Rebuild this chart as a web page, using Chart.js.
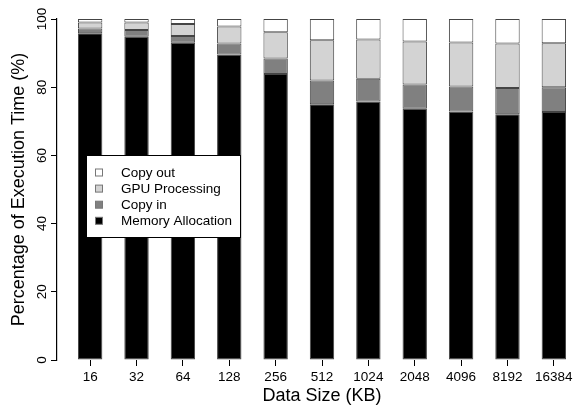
<!DOCTYPE html>
<html>
<head>
<meta charset="utf-8">
<title>Execution time breakdown</title>
<script src="https://cdn.jsdelivr.net/npm/chart.js@4.4.1/dist/chart.umd.min.js"></script>
<style>
  html, body { margin: 0; padding: 0; background: #fff; }
  #breakdownChart { display: block; }
</style>
</head>
<body>
<canvas id="breakdownChart" width="587" height="405"></canvas>
<script>
// data sizes in KB (x categories)
const dataSizes = ['16', '32', '64', '128', '256', '512', '1024', '2048', '4096', '8192', '16384'];
const yTicks = [0, 20, 40, 60, 80, 100];

// percentage of execution time
const memoryAllocation = [95.8, 94.8, 93.0, 89.6, 83.9, 75.0, 75.8, 73.7, 72.9, 72.1, 72.7];
const copyIn = [1.4, 2.0, 2.0, 3.2, 4.5, 7.0, 6.7, 7.1, 7.3, 7.7, 7.3];
const gpuProcessing = [1.8, 2.2, 3.5, 5.0, 7.7, 11.8, 11.5, 12.6, 12.9, 13.0, 12.9];
const copyOut = [1.0, 1.0, 1.5, 2.2, 3.9, 6.2, 6.0, 6.6, 6.9, 7.2, 7.1];

const FONT = "'Liberation Sans', Arial, Helvetica, sans-serif";
Chart.defaults.font.family = FONT;
Chart.defaults.color = '#000';

const toPoints = values => values.map((v, i) => ({ x: i, y: v }));

// legend box drawn inside the plot, like the original
const legendBox = {
    id: 'legendBox',
    afterDatasetsDraw(chart) {
        const ctx = chart.ctx;
        const items = chart.data.datasets.slice().reverse();
        ctx.save();
        ctx.fillStyle = '#fff';
        ctx.strokeStyle = '#000';
        ctx.lineWidth = 1;
        ctx.fillRect(86.5, 155.5, 154, 82);
        ctx.strokeRect(86.5, 155.5, 154, 82);
        ctx.font = '13.5px ' + FONT;
        ctx.textBaseline = 'middle';
        ctx.textAlign = 'left';
        items.forEach((ds, i) => {
            const y = 172.5 + i * 16.1;
            ctx.fillStyle = ds.backgroundColor;
            ctx.fillRect(95.5, y - 3.5, 7, 7);
            ctx.strokeStyle = '#777';
            ctx.strokeRect(95.5, y - 3.5, 7, 7);
            ctx.fillStyle = '#000';
            ctx.fillText(ds.label, 121, y + 0.5);
        });
        ctx.restore();
    }
};

// y tick labels are written vertically
const verticalYLabels = {
    id: 'verticalYLabels',
    afterDraw(chart) {
        const ctx = chart.ctx;
        const scale = chart.scales.y;
        ctx.save();
        ctx.font = '13.5px ' + FONT;
        ctx.fillStyle = '#000';
        ctx.textAlign = 'center';
        ctx.textBaseline = 'alphabetic';
        scale.ticks.forEach(t => {
            ctx.save();
            ctx.translate(46, scale.getPixelForValue(t.value));
            ctx.rotate(-Math.PI / 2);
            ctx.fillText(String(t.value), 0, 0);
            ctx.restore();
        });
        ctx.restore();
    }
};

const barStyle = {
    borderColor: '#444',
    borderWidth: 1,
    borderSkipped: false,
    categoryPercentage: 1,
    barPercentage: 0.526
};

new Chart(document.getElementById('breakdownChart'), {
    type: 'bar',
    data: {
        datasets: [
            { label: 'Memory Allocation', data: toPoints(memoryAllocation), backgroundColor: '#000000', ...barStyle },
            { label: 'Copy in', data: toPoints(copyIn), backgroundColor: '#808080', ...barStyle },
            { label: 'GPU Processing', data: toPoints(gpuProcessing), backgroundColor: '#d3d3d3', ...barStyle },
            { label: 'Copy out', data: toPoints(copyOut), backgroundColor: '#ffffff', ...barStyle }
        ]
    },
    options: {
        responsive: false,
        animation: false,
        layout: { padding: { top: 19, right: -13, left: 0, bottom: 0 } },
        plugins: {
            legend: { display: false },
            tooltip: { enabled: false }
        },
        scales: {
            x: {
                type: 'linear',
                stacked: true,
                offset: false,
                min: -0.715,
                max: 10.715,
                afterBuildTicks: scale => { scale.ticks = dataSizes.map((s, i) => ({ value: i })); },
                afterFit: scale => { scale.height = 45; },
                ticks: {
                    autoSkip: false,
                    maxRotation: 0,
                    padding: 3,
                    font: { size: 13.5 },
                    callback: value => dataSizes[value]
                },
                grid: {
                    display: true,
                    offset: false,
                    drawOnChartArea: false,
                    drawTicks: true,
                    tickLength: 6,
                    tickColor: '#000',
                    tickWidth: 1
                },
                border: { display: false },
                title: {
                    display: true,
                    text: 'Data Size (KB)',
                    font: { size: 18, lineHeight: 1 },
                    padding: { top: 0, bottom: 0 }
                }
            },
            y: {
                stacked: true,
                min: 0,
                max: 100,
                afterBuildTicks: scale => { scale.ticks = yTicks.map(v => ({ value: v })); },
                afterFit: scale => { scale.width = 57; },
                ticks: { display: false },
                grid: {
                    display: true,
                    drawOnChartArea: false,
                    drawTicks: true,
                    tickLength: 6,
                    tickColor: '#000',
                    tickWidth: 1
                },
                border: { display: true, color: '#000', width: 1.2 },
                title: {
                    display: true,
                    text: 'Percentage of Execution Time (%)',
                    font: { size: 18 },
                    padding: { top: 8, bottom: 0 }
                }
            }
        }
    },
    plugins: [legendBox, verticalYLabels]
});
</script>
</body>
</html>
